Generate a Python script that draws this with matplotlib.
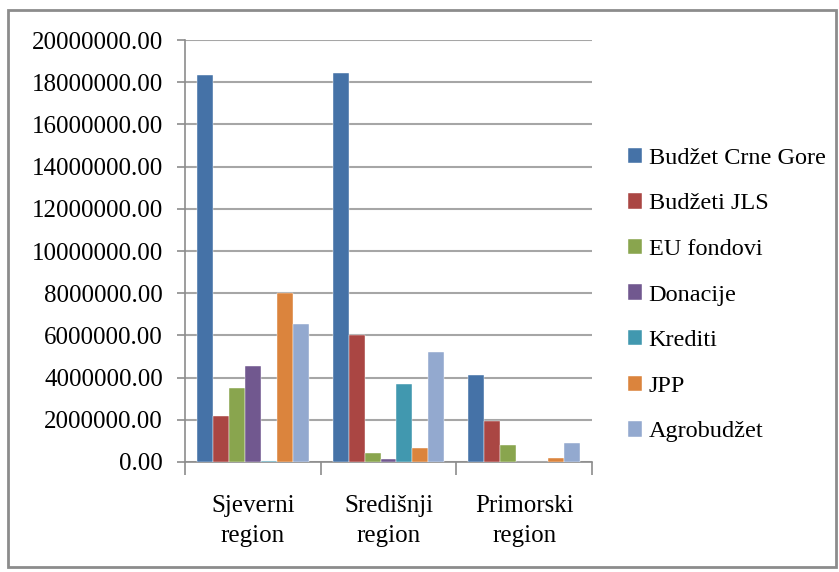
import matplotlib
matplotlib.use("Agg")
import matplotlib.pyplot as plt
import numpy as np
from matplotlib.patches import Rectangle

categories = ["Sjeverni\nregion", "Središnji\nregion", "Primorski\nregion"]
series_names = ["Budžet Crne Gore", "Budžeti JLS", "EU fondovi", "Donacije",
                "Krediti", "JPP", "Agrobudžet"]
budzet_cg = [18320000, 18440000, 4130000]
budzeti_jls = [2170000, 6000000, 1920000]
eu_fondovi = [3500000, 430000, 800000]
donacije = [4550000, 140000, 0]
krediti = [60000, 3720000, 0]
jpp = [8020000, 660000, 190000]
agrobudzet = [6540000, 5210000, 900000]
series = [budzet_cg, budzeti_jls, eu_fondovi, donacije, krediti, jpp, agrobudzet]
colors = ["#4572A7", "#AA4643", "#89A54E", "#71588F", "#4198AF", "#DB843D", "#93A9CF"]
yticks = np.arange(0, 20000001, 2000000)

plt.rcParams['font.family'] = ['Liberation Serif', 'DejaVu Serif']

fig = plt.figure(figsize=(8.39, 5.72), dpi=100)
fig.patches.append(Rectangle((8/839, 1 - 567/572), (836-8)/839, (567-10)/572,
                             transform=fig.transFigure, fill=False,
                             edgecolor="#8C8C8C", linewidth=2))

ax = fig.add_axes([185/839, 1 - 462/572, (592-185)/839, (462-40)/572])

n = len(series)
gap = 1.5
bw = 1.0 / (n + gap)
x = np.arange(len(categories))
for i, (vals, name, c) in enumerate(zip(series, series_names, colors)):
    offs = -0.5 + gap * bw / 2 + bw * (i + 0.5)
    ax.bar(x + offs, vals, width=bw, color=c, label=name, zorder=3,
           edgecolor="white", linewidth=0.3)

ax.set_xlim(-0.5, len(categories) - 0.5)
ax.set_ylim(0, 20000000)
ax.set_yticks(yticks)
ax.set_yticklabels([f"{v:.2f}" for v in yticks], fontsize=18)
ax.yaxis.grid(True, color="#A6A6A6", linewidth=1.5, zorder=0)
ax.set_axisbelow(True)

ax.set_xticks(np.arange(len(categories) + 1) - 0.5)
ax.set_xticklabels([])
ax.set_xticks(x, minor=True)
ax.set_xticklabels(categories, minor=True, fontsize=18, linespacing=1.45)
ax.tick_params(axis='x', which='minor', length=0, pad=24)
ax.tick_params(axis='x', which='major', length=9, color="#8C8C8C", width=1.2)
ax.tick_params(axis='y', length=6, color="#8C8C8C", width=1.2, pad=10)

for s in ["top", "right"]:
    ax.spines[s].set_visible(False)
for s in ["left", "bottom"]:
    ax.spines[s].set_color("#8C8C8C")
    ax.spines[s].set_linewidth(1.2)

handles, labels = ax.get_legend_handles_labels()
fig.legend(handles, labels, loc="center left", bbox_to_anchor=(606/839, 1 - 295/572),
           frameon=False, fontsize=17.5, handlelength=0.6, handleheight=0.6,
           handletextpad=0.25, labelspacing=1.0)

fig.savefig("out.png", dpi=100)
